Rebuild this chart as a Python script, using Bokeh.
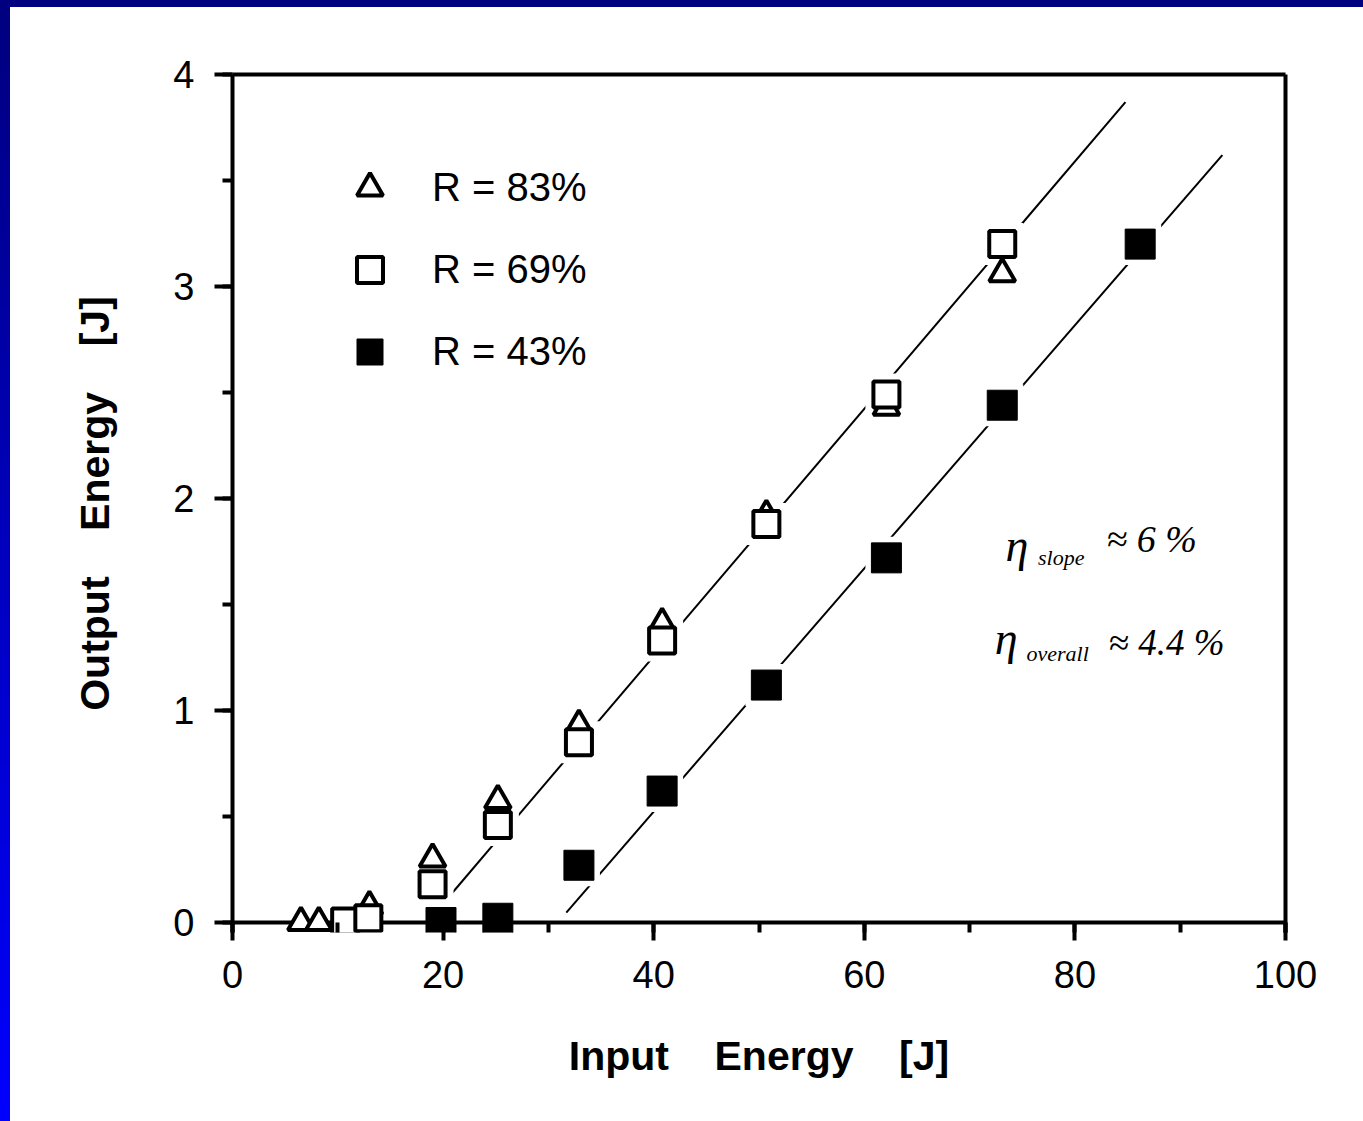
from bokeh.plotting import figure
from bokeh.models import (Legend, LegendItem, SingleIntervalTicker, LinearAxis,
                          FixedTicker, Span, Range1d, Div, Label)
from bokeh.layouts import column, row
from bokeh.embed import file_html
from bokeh.resources import INLINE

# ---- data ----
r83_x = [6.5, 8.2, 13.0, 19.0, 25.2, 32.9, 40.8, 50.7, 62.1, 73.1]
r83_y = [0.0, 0.0, 0.075, 0.30, 0.575, 0.93, 1.41, 1.92, 2.43, 3.06]
r69_x = [10.7, 12.9, 19.0, 25.2, 32.9, 40.8, 50.7, 62.1, 73.1]
r69_y = [0.005, 0.02, 0.18, 0.46, 0.85, 1.33, 1.88, 2.49, 3.20]
r43_x = [19.8, 25.2, 32.9, 40.8, 50.7, 62.1, 73.1, 86.2]
r43_y = [0.0, 0.02, 0.27, 0.62, 1.12, 1.72, 2.44, 3.20]
fit_a_x = [20.5, 84.8]
fit_a_y = [0.118, 3.87]
fit_b_x = [31.7, 94.0]
fit_b_y = [0.047, 3.62]
series_labels = ["R = 83%", "R = 69%", "R = 43%"]
NB = "\u00a0"
x_label = "Input" + NB * 4 + "Energy" + NB * 4 + "[J]"
y_label = "Output" + NB * 4 + "Energy" + NB * 4 + "[J]"

FONT = "Liberation Sans"

p = figure(width=1353, height=1114, x_range=Range1d(0, 100),
           y_range=Range1d(-10 / 212, 4), output_backend="svg",
           toolbar_location=None, min_border_left=222, min_border_right=78,
           min_border_top=67, min_border_bottom=189)
p.outline_line_color = None
p.grid.visible = False
p.background_fill_color = "white"
p.border_fill_color = "white"

# x axis
xa = p.xaxis[0]
xa.ticker = SingleIntervalTicker(interval=20, num_minor_ticks=2)
xa.axis_line_color = None
xa.major_tick_in = 10
xa.major_tick_out = 8
xa.minor_tick_in = 10
xa.minor_tick_out = 0
xa.major_tick_line_width = 4
xa.minor_tick_line_width = 4
xa.major_label_standoff = 20
xa.major_label_text_font = FONT
xa.major_label_text_font_size = "38px"
xa.major_label_text_color = "black"
xa.axis_label = x_label
xa.axis_label_text_font = FONT
xa.axis_label_text_font_style = "bold"
xa.axis_label_text_font_size = "41px"
xa.axis_label_text_color = "black"
xa.axis_label_standoff = 42

# y axis
ya = p.yaxis[0]
ya.ticker = SingleIntervalTicker(interval=1, num_minor_ticks=2)
ya.axis_line_width = 4
ya.axis_line_color = "black"
ya.major_tick_in = 0
ya.major_tick_out = 18
ya.minor_tick_in = 0
ya.minor_tick_out = 10
ya.major_tick_line_width = 4
ya.minor_tick_line_width = 4
ya.major_label_standoff = 20
ya.major_label_text_font = FONT
ya.major_label_text_font_size = "38px"
ya.major_label_text_color = "black"
ya.axis_label = y_label
ya.axis_label_text_font = FONT
ya.axis_label_text_font_style = "bold"
ya.axis_label_text_font_size = "41px"
ya.axis_label_text_color = "black"
ya.axis_label_standoff = 52

# top and right frame lines
for side in ("above", "right"):
    ax = LinearAxis(ticker=FixedTicker(ticks=[]), axis_line_width=4,
                    axis_line_color="black", major_tick_line_color=None,
                    minor_tick_line_color=None, major_label_text_font_size="0px")
    p.add_layout(ax, side)

# zero line (x axis line at y = 0)
p.add_layout(Span(location=0, dimension="width", line_color="black",
                  line_width=4, level="underlay"))

# fit lines
p.line(fit_a_x, fit_a_y, line_color="black", line_width=2, level="underlay")
p.line(fit_b_x, fit_b_y, line_color="black", line_width=2, level="underlay")

# white halos to break the fit lines around markers
p.scatter(r83_x, r83_y, marker="triangle", size=40, fill_color="white",
          line_color=None, level="underlay")
p.scatter(r69_x, r69_y, marker="square", size=42, fill_color="white",
          line_color=None, level="underlay")
p.scatter(r43_x, r43_y, marker="square", size=42, fill_color="white",
          line_color=None, level="underlay")

tri = p.scatter(r83_x, r83_y, marker="triangle", size=26, fill_color="white",
                line_color="black", line_width=4)
sq = p.scatter(r69_x, r69_y, marker="square", size=26, fill_color="white",
               line_color="black", line_width=4)
fsq = p.scatter(r43_x, r43_y, marker="square", size=30, fill_color="black",
                line_color="black", line_width=1)

legend = Legend(items=[LegendItem(label=series_labels[0], renderers=[tri]),
                       LegendItem(label=series_labels[1], renderers=[sq]),
                       LegendItem(label=series_labels[2], renderers=[fsq])],
                location=(105, 548), glyph_width=65, glyph_height=65,
                spacing=17, padding=0, margin=0, label_standoff=30,
                label_text_font=FONT, label_text_font_size="40px",
                label_text_color="black", border_line_color=None,
                background_fill_color=None, background_fill_alpha=0)
p.add_layout(legend, "center")

# handwritten efficiency notes
HAND = "Liberation Serif"
notes = [
    (73.4, 1.78, "η", "46px"), (76.5, 1.72, "slope", "22px"), (83.0, 1.81, "≈ 6 %", "38px"),
    (72.4, 1.34, "η", "46px"), (75.4, 1.27, "overall", "22px"), (83.2, 1.32, "≈ 4.4 %", "37px"),
]
for nx, ny, nt, ns in notes:
    p.add_layout(Label(x=nx, y=ny, text=nt, text_font=HAND, text_font_style="italic",
                       text_font_size=ns, text_baseline="middle", text_align="left",
                       text_color="black"))

top_bar = Div(width=1363, height=7, margin=0,
              styles={"background-color": "#000080"})
left_bar = Div(width=10, height=1114, margin=0,
               styles={"background": "linear-gradient(to bottom, #000080, #0000ff)"})
layout = column(top_bar, row(left_bar, p, spacing=0), spacing=0)

open("out.html", "w").write(file_html(layout, INLINE))
